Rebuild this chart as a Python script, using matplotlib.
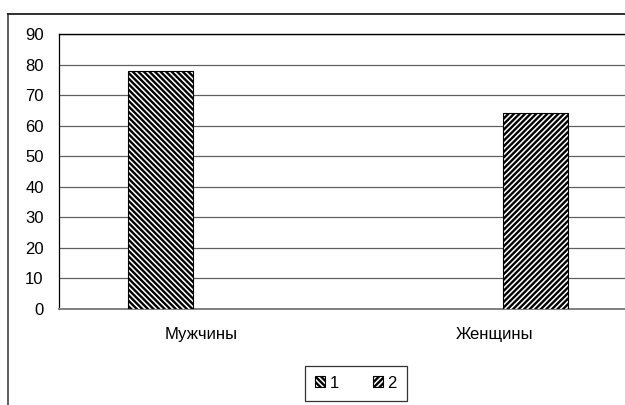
import matplotlib
matplotlib.use("Agg")
import matplotlib.pyplot as plt
from matplotlib.lines import Line2D

plt.rcParams['font.family'] = ['Liberation Sans', 'DejaVu Sans']
plt.rcParams['hatch.linewidth'] = 1.7
plt.rcParams['hatch.color'] = 'black'

categories = ['Мужчины', 'Женщины']
series_names = ['1', '2']
series_1 = [78, None]
series_2 = [None, 64]
y_ticks = [0, 10, 20, 30, 40, 50, 60, 70, 80, 90]

W, H = 625, 405
fig = plt.figure(figsize=(W / 100, H / 100), dpi=100)
fig.patch.set_facecolor('white')

# chart-area frame (left and top edges visible)
fig.add_artist(Line2D([8 / W, 8 / W], [0, 1 - 14 / H], transform=fig.transFigure,
                      color='#505050', lw=1.3))
fig.add_artist(Line2D([8 / W, 1.0], [1 - 14 / H, 1 - 14 / H], transform=fig.transFigure,
                      color='#202020', lw=1.3))

left, right, top, bottom = 59, 625, 34, 309
ax = fig.add_axes([left / W, 1 - bottom / H, (right - left) / W, (bottom - top) / H])

x = list(range(len(categories)))
offset = 0.138
width = 0.221
hatches = ['\\' * 6, '/' * 6]
for s_idx, (vals, name) in enumerate(zip([series_1, series_2], series_names)):
    xs, hs = [], []
    for i, v in enumerate(vals):
        if v is not None:
            xs.append(x[i] + (offset if s_idx == 1 else -offset))
            hs.append(v)
    ax.bar(xs, hs, width=width, facecolor='white', edgecolor='black', lw=0.8,
           hatch=hatches[s_idx], label=name, zorder=3)

ax.set_xlim(-0.483, 1.442)
ax.set_ylim(0, 90)
ax.set_yticks(y_ticks)
ax.set_xticks(x)
ax.set_xticklabels(categories)
ax.yaxis.grid(True, color='#606060', lw=0.9, zorder=0)
ax.tick_params(axis='both', length=0, labelsize=12)
ax.tick_params(axis='y', pad=11)
ax.tick_params(axis='x', pad=13)
ax.spines['right'].set_visible(False)
ax.spines['top'].set_color('black')
ax.spines['top'].set_linewidth(1.0)
ax.spines['left'].set_color('black')
ax.spines['left'].set_linewidth(0.9)
ax.spines['bottom'].set_color('#808080')
ax.spines['bottom'].set_linewidth(1.4)

leg = fig.legend(loc='center', bbox_to_anchor=(356 / W, 1 - 383 / H), ncol=2,
                 frameon=True, fancybox=False, shadow=False, fontsize=12,
                 handlelength=0.6, handleheight=0.6, handletextpad=0.3,
                 columnspacing=2.0, borderpad=0.6)
leg.get_frame().set_edgecolor('black')
leg.get_frame().set_linewidth(0.9)

fig.savefig('out.png', dpi=100)
